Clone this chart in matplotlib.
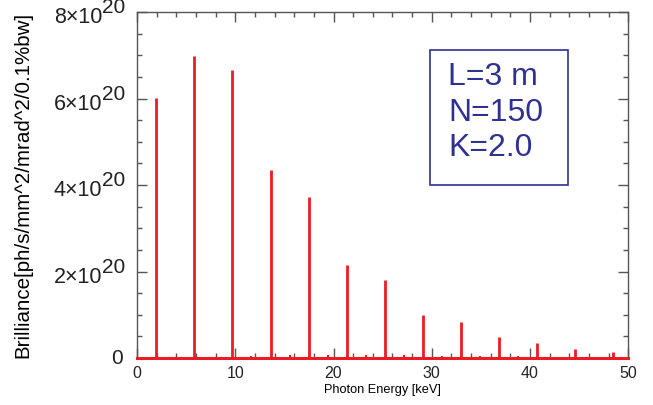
import matplotlib
matplotlib.use('Agg')
import matplotlib.pyplot as plt
from matplotlib.ticker import MultipleLocator, FixedLocator
from matplotlib.patches import Rectangle

plt.rcParams['font.family'] = ['Liberation Sans', 'DejaVu Sans']

# Odd harmonic peaks (keV, brilliance)
peak_energy = [1.94, 5.82, 9.70, 13.58, 17.46, 21.34, 25.22, 29.10,
               32.98, 36.86, 40.74, 44.62, 48.50]
peak_height = [6.02e20, 6.98e20, 6.66e20, 4.35e20, 3.72e20, 2.14e20, 1.81e20,
               0.99e20, 0.83e20, 0.48e20, 0.35e20, 0.21e20, 0.14e20]
# weak even harmonics
even_energy = [3.88, 7.76, 11.64, 15.52, 19.40, 23.28, 27.16, 31.04,
               34.92, 38.80, 42.68, 46.56]
even_height = [0.02e20, 0.03e20, 0.05e20, 0.06e20, 0.06e20, 0.06e20, 0.06e20,
               0.05e20, 0.05e20, 0.04e20, 0.03e20, 0.03e20]

y_ticks = [0, 2e20, 4e20, 6e20, 8e20]
y_mant = ['0', '2\u00d710', '4\u00d710', '6\u00d710', '8\u00d710']
y_exp = ['', '20', '20', '20', '20']
info = ['L=3 m', 'N=150', 'K=2.0']

red = '#ED1C24'
navy = '#2E3192'
axc = '#555555'

fig = plt.figure(figsize=(6.53, 4.05), dpi=100)
ax = fig.add_axes([0.21, 0.116, 0.752, 0.854])

ax.plot([0, 50], [0, 0], color=red, lw=2.2, clip_on=False, zorder=3)
ax.vlines(peak_energy, 0, peak_height, color=red, lw=2.0, zorder=3)
ax.vlines(even_energy, 0, even_height, color=red, lw=1.5, zorder=3)

ax.set_xlim(0, 50)
ax.set_ylim(0, 8e20)
ax.xaxis.set_major_locator(MultipleLocator(10))
ax.xaxis.set_minor_locator(MultipleLocator(2))
ax.yaxis.set_major_locator(FixedLocator(y_ticks))
ax.yaxis.set_minor_locator(MultipleLocator(0.5e20))
ax.set_yticklabels([])

ax.tick_params(which='both', direction='in', top=True, right=True, color=axc)
ax.tick_params(which='major', length=7, width=1.0)
ax.tick_params(which='minor', length=3.5, width=1.0)
ax.tick_params(axis='x', labelsize=11.5, pad=6, labelcolor='#222222')
for s in ax.spines.values():
    s.set_color(axc)
    s.set_linewidth(1.0)

# y tick labels drawn as mantissa + raised exponent
for v, m, e in zip(y_ticks, y_mant, y_exp):
    if e == '':
        ax.annotate(m, xy=(0, v), xycoords=('axes fraction', 'data'),
                    xytext=(-10, 0), textcoords='offset points',
                    ha='right', va='center', fontsize=15, color='#222222',
                    annotation_clip=False)
    else:
        ax.annotate(m, xy=(0, v), xycoords=('axes fraction', 'data'),
                    xytext=(-25, -4), textcoords='offset points',
                    ha='right', va='center', fontsize=15.5, color='#222222',
                    annotation_clip=False)
        ax.annotate(e, xy=(0, v), xycoords=('axes fraction', 'data'),
                    xytext=(-25, 3), textcoords='offset points',
                    ha='left', va='center', fontsize=15, color='#222222',
                    annotation_clip=False)

ax.set_xlabel('Photon Energy [keV]', fontsize=9.2, labelpad=2)
ax.set_ylabel('Brilliance[ph/s/mm^2/mrad^2/0.1%bw]', fontsize=14.8)
ax.yaxis.set_label_coords(-0.214, 0.5)

# parameter box
fig.add_artist(Rectangle((0.659, 0.543), 0.211, 0.334, transform=fig.transFigure,
                         fill=False, edgecolor=navy, lw=1.2))
for t, yy in zip(info, [0.810, 0.722, 0.635]):
    fig.text(0.686, yy, t, color=navy, fontsize=23, va='center', ha='left')

fig.savefig('out.png', dpi=100)
